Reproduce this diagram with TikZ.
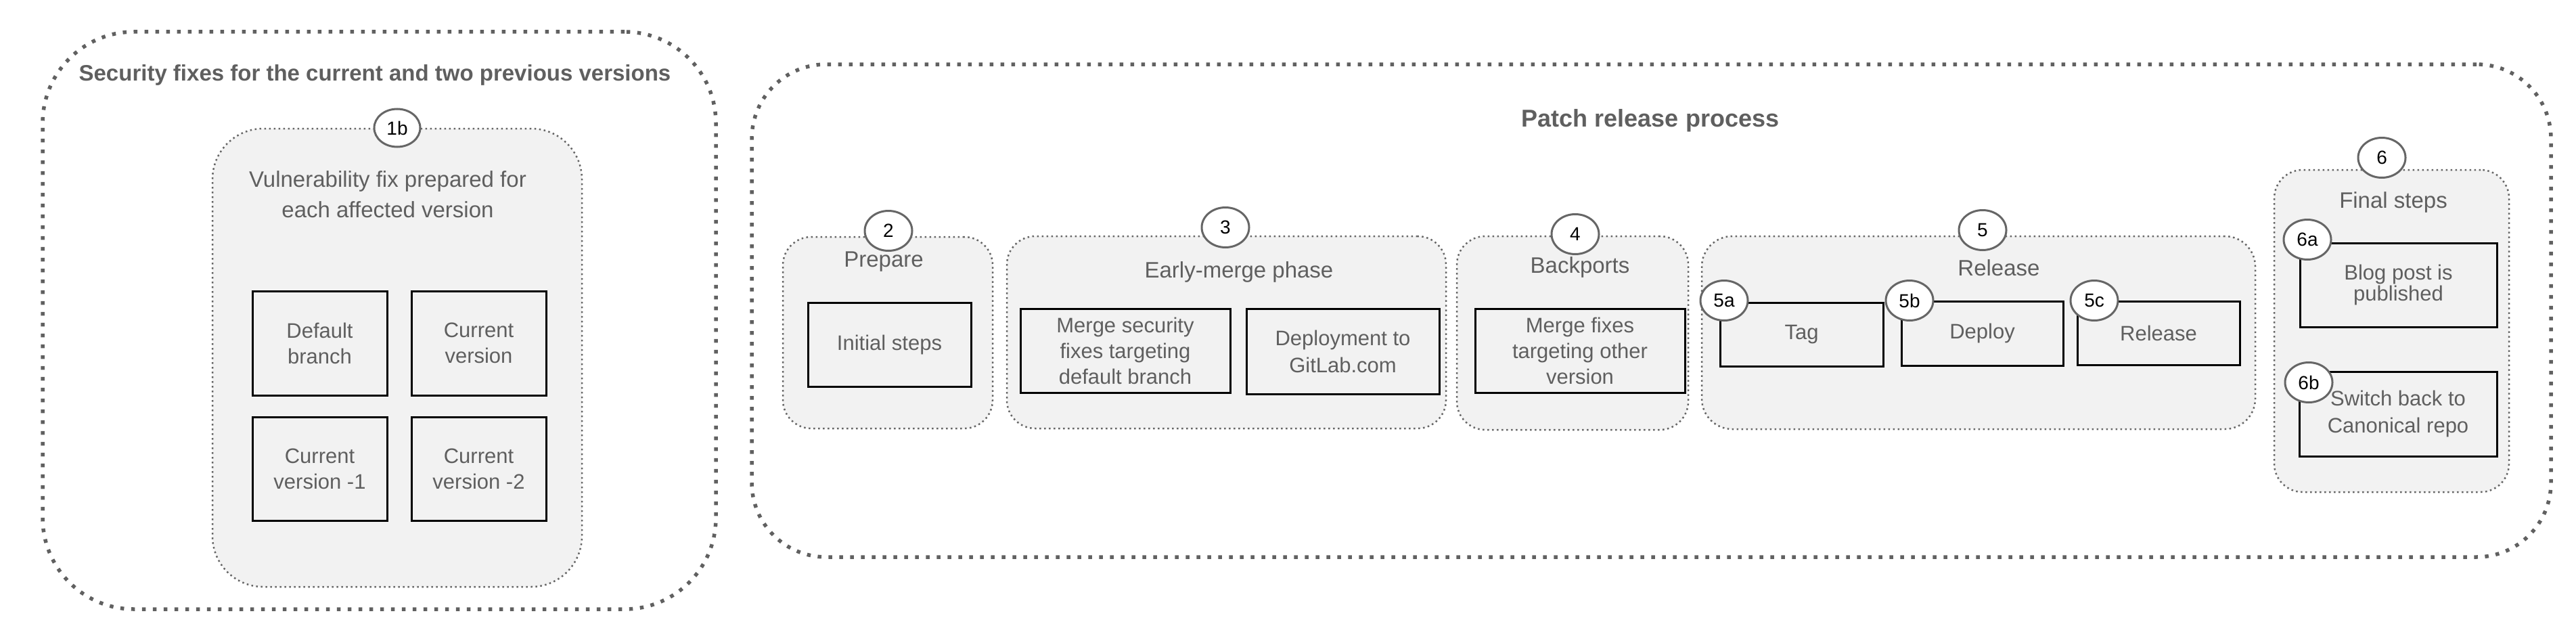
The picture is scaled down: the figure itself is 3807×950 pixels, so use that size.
\documentclass[tikz,border=0pt]{standalone}
\usepackage{fontspec}
\setmainfont{Liberation Sans}
\usetikzlibrary{shapes.geometric}
\definecolor{txtgray}{HTML}{5F5F5F}
\definecolor{boxfill}{HTML}{F2F2F2}
\definecolor{dotgray}{HTML}{666666}
\definecolor{outdot}{HTML}{606060}
\definecolor{ringgray}{HTML}{666666}
\begin{document}
\begin{tikzpicture}[x=1pt,y=-1pt,
 outerbox/.style={draw=outdot, line width=5.5pt, dash pattern=on 5.5pt off 10.5pt, rounded corners=135pt, inner sep=0pt, fill=white},
 groupbox/.style={draw=dotgray, line width=2.5pt, dash pattern=on 2.5pt off 4.5pt, fill=boxfill, rounded corners=42pt, inner sep=0pt},
 inbox/.style={draw=black, line width=3pt, fill=boxfill, inner sep=0pt, align=center, text=txtgray, font=\fontsize{31}{38}\selectfont},
 numtag/.style={ellipse, draw=ringgray, line width=3pt, fill=white, minimum width=70pt, minimum height=59pt, inner sep=0pt, font=\fontsize{28}{28}\selectfont, text=black},
 gtitle/.style={anchor=base, text=txtgray, font=\fontsize{33}{40}\selectfont},
 bigtitle/.style={anchor=base, text=txtgray, font=\bfseries\fontsize{33}{40}\selectfont},
]
\useasboundingbox (0,0) rectangle (3807,950);

% outer containers
\node[outerbox, minimum width=995pt, minimum height=853pt] (secbox) at (560.5,473.5) {};
\node[outerbox, rounded corners=110pt, minimum width=2659pt, minimum height=728pt] (patchbox) at (2440.5,459) {};
\node[bigtitle] (sectitle) at (554,119) {Security fixes for the current and two previous versions};
\node[bigtitle, font=\bfseries\fontsize{36}{42}\selectfont] (patchtitle) at (2439,187) {Patch release process};

% group 1b
\node[groupbox, rounded corners=75pt, minimum width=546pt, minimum height=677pt] (g1b) at (587,528.5) {};
\node[text=txtgray, align=center, font=\fontsize{33}{45}\selectfont] (vulntxt) at (573,287) {Vulnerability fix prepared for\\each affected version};
\node[inbox, minimum width=199pt, minimum height=154pt] (db) at (472.5,507) {Default\\branch};
\node[inbox, minimum width=199pt, minimum height=154pt] (cv) at (707.5,507) {Current\\version};
\node[inbox, minimum width=199pt, minimum height=153pt] (cv1) at (472.5,692.5) {Current\\version -1};
\node[inbox, minimum width=199pt, minimum height=153pt] (cv2) at (707.5,692.5) {Current\\version -2};
\node[numtag, minimum width=68pt, minimum height=56pt] (n1b) at (587,189) {1b};

% group 2
\node[groupbox, minimum width=310pt, minimum height=283pt] (g2) at (1312,491.5) {};
\node[gtitle] (t2) at (1306,394) {Prepare};
\node[inbox, minimum width=241pt, minimum height=124pt] (init) at (1314.5,509) {Initial steps};
\node[numtag] (n2) at (1313,341) {2};

% group 3
\node[groupbox, minimum width=649pt, minimum height=284pt] (g3) at (1812.5,491) {};
\node[gtitle] (t3) at (1831,410) {Early-merge phase};
\node[inbox, minimum width=310pt, minimum height=124pt] (msec) at (1663,518) {Merge security\\fixes targeting\\default branch};
\node[inbox, minimum width=285pt, minimum height=126pt, font=\fontsize{31}{40}\selectfont] (depl) at (1984.5,519) {Deployment to\\GitLab.com};
\node[numtag] (n3) at (1811,336) {3};

% group 4
\node[groupbox, minimum width=342pt, minimum height=286pt] (g4) at (2324,492) {};
\node[gtitle] (t4) at (2335,403) {Backports};
\node[inbox, minimum width=310pt, minimum height=124pt] (mfix) at (2335,518) {Merge fixes\\targeting other\\version};
\node[numtag] (n4) at (2328,346) {4};

% group 5
\node[groupbox, rounded corners=45pt, minimum width=818pt, minimum height=285pt] (g5) at (2924,491.5) {};
\node[gtitle] (t5) at (2954,407) {Release};
\node[inbox, minimum width=241pt, minimum height=94pt] (tagb) at (2662.5,494) {Tag};
\node[inbox, minimum width=239pt, minimum height=95pt] (depb) at (2929.5,492.5) {Deploy};
\node[inbox, minimum width=240pt, minimum height=94pt] (relb) at (3190,492) {Release};
\node[numtag] (n5) at (2930,340) {5};
\node[numtag] (n5a) at (2548,444) {5a};
\node[numtag] (n5b) at (2822,444) {5b};
\node[numtag] (n5c) at (3095,444) {5c};

% group 6
\node[groupbox, minimum width=347pt, minimum height=476pt] (g6) at (3534.5,489) {};
\node[gtitle] (t6) at (3537,307) {Final steps};
\node[inbox, minimum width=291pt, minimum height=124pt, font=\fontsize{31}{31}\selectfont] (blog) at (3544.5,421) {Blog post is\\published};
\node[inbox, minimum width=292pt, minimum height=125pt, font=\fontsize{31}{40}\selectfont] (swb) at (3544,611.5) {Switch back to\\Canonical repo};
\node[numtag] (n6) at (3520,233) {6};
\node[numtag] (n6a) at (3410,354) {6a};
\node[numtag] (n6b) at (3412,565) {6b};
\end{tikzpicture}
\end{document}
